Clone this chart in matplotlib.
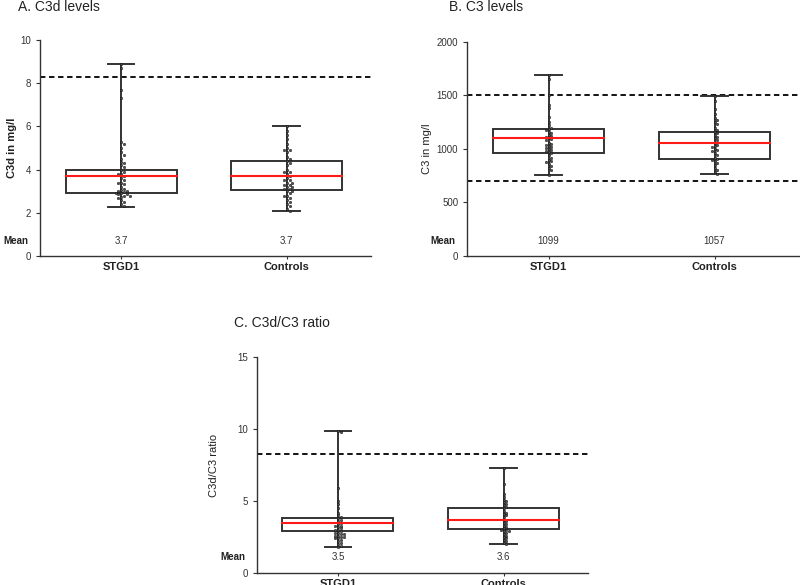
import numpy as np
import matplotlib.pyplot as plt

plt.rcParams["font.family"] = ["Liberation Sans", "DejaVu Sans"]

groups = ["STGD1", "Controls"]

# panel A: C3d (mg/l)
c3d_stgd1 = [8.9, 8.7, 7.7, 7.3, 5.3, 5.2, 5.0, 4.8, 4.7, 4.5, 4.35, 4.3, 4.2, 4.1,
             4.0, 3.9, 3.8, 3.8, 3.7, 3.6, 3.5, 3.4, 3.4, 3.35, 3.2, 3.1, 3.05, 3.0,
             3.0, 2.95, 2.9, 2.9, 2.85, 2.85, 2.8, 2.8, 2.75, 2.7, 2.6, 2.5, 2.4, 2.3]
c3d_controls = [6.0, 5.8, 5.6, 5.4, 5.2, 5.0, 4.9, 4.9, 4.8, 4.6, 4.5, 4.4, 4.3, 4.2,
                4.0, 3.9, 3.9, 3.8, 3.7, 3.6, 3.5, 3.5, 3.4, 3.4, 3.3, 3.3, 3.2, 3.2,
                3.1, 3.1, 3.0, 3.0, 2.9, 2.8, 2.8, 2.7, 2.6, 2.5, 2.4, 2.3, 2.2, 2.1]
c3d_whislo = [2.27, 2.08]
c3d_q1 = [2.9, 3.07]
c3d_q3 = [4.0, 4.4]
c3d_whishi = [8.9, 6.0]
c3d_center = [3.7, 3.72]
c3d_mean = ["3.7", "3.7"]
c3d_ref = [8.3]

# panel B: C3 (mg/l)
c3_stgd1 = [1690, 1650, 1500, 1410, 1380, 1300, 1250, 1220, 1200, 1190, 1180, 1160,
            1150, 1130, 1120, 1110, 1100, 1090, 1080, 1060, 1050, 1040, 1030, 1020,
            1010, 1000, 990, 980, 970, 960, 940, 920, 900, 890, 880, 860, 840, 820,
            800, 760]
c3_controls = [1490, 1450, 1370, 1330, 1290, 1270, 1250, 1230, 1200, 1180, 1160,
               1150, 1130, 1110, 1100, 1080, 1060, 1040, 1030, 1020, 1000, 990, 980,
               960, 940, 920, 910, 900, 890, 870, 850, 820, 800, 780, 770]
c3_whislo = [755, 770]
c3_q1 = [965, 910]
c3_q3 = [1185, 1160]
c3_whishi = [1690, 1490]
c3_center = [1099, 1057]
c3_mean = ["1099", "1057"]
c3_ref = [1500, 700]

# panel C: C3d/C3 ratio
ratio_stgd1 = [9.9, 9.8, 5.9, 5.0, 4.8, 4.5, 4.2, 4.0, 3.9, 3.8, 3.7, 3.6, 3.5, 3.4,
               3.3, 3.3, 3.2, 3.1, 3.0, 3.0, 2.9, 2.8, 2.8, 2.7, 2.7, 2.6, 2.6, 2.5,
               2.5, 2.4, 2.4, 2.3, 2.2, 2.1, 2.0, 1.9, 1.8]
ratio_controls = [7.3, 6.2, 5.5, 5.3, 5.1, 5.0, 4.9, 4.8, 4.7, 4.6, 4.5, 4.3, 4.2,
                  4.1, 4.0, 3.9, 3.7, 3.6, 3.5, 3.4, 3.3, 3.2, 3.1, 3.0, 3.0, 2.9,
                  2.9, 2.8, 2.7, 2.6, 2.5, 2.4, 2.3, 2.2, 2.1, 2.0]
ratio_whislo = [1.8, 2.0]
ratio_q1 = [2.9, 3.05]
ratio_q3 = [3.85, 4.55]
ratio_whishi = [9.9, 7.3]
ratio_center = [3.5, 3.65]
ratio_mean = ["3.5", "3.6"]
ratio_ref = [8.25]

GREY = "#333333"


def swarm_offsets(values, ax, ymax, dot_px=2.8):
    """Deterministic beeswarm: x offsets in data units so dots don't overlap."""
    fig = ax.figure
    bbox = ax.get_position()
    w_px = bbox.width * fig.get_figwidth() * fig.dpi
    h_px = bbox.height * fig.get_figheight() * fig.dpi
    xlo, xhi = ax.get_xlim()
    sx = w_px / (xhi - xlo)
    sy = h_px / ymax
    placed = []
    offs = []
    for v in values:
        y = v * sy
        for k in range(0, 40):
            cands = [0.0] if k == 0 else [k * dot_px * 0.5, -k * dot_px * 0.5]
            ok = None
            for c in cands:
                if all((c - px) ** 2 + (y - py) ** 2 >= dot_px ** 2 for px, py in placed):
                    ok = c
                    break
            if ok is not None:
                break
        placed.append((ok, y))
        offs.append(ok / sx)
    return np.array(offs)


def panel(ax, ylabel, ybold, ylab_x, ymax, yticks, pts, whislo, q1, q3, whishi,
          center, means, refs, mean_y):
    ax.set_xlim(-0.49, 1.51)
    ax.set_ylim(0, ymax)
    for s in ["top", "right"]:
        ax.spines[s].set_visible(False)
    for s in ["left", "bottom"]:
        ax.spines[s].set_color(GREY)
        ax.spines[s].set_linewidth(1.0)
    ax.set_yticks(yticks)
    ax.tick_params(axis="y", labelsize=7, labelcolor=GREY, color=GREY,
                   length=3, width=0.8)
    ax.set_xticks([0, 1])
    ax.set_xticklabels(groups, fontsize=8, fontweight="bold", color="#222222")
    ax.tick_params(axis="x", length=2.5, width=0.8, color=GREY, pad=2)
    ax.set_ylabel(ylabel, fontsize=8, fontweight="bold" if ybold else "normal",
                  color="#222222")
    ax.yaxis.set_label_coords(ylab_x, 0.5)

    for r in refs:
        ax.axhline(r, color="black", lw=1.3, ls=(0, (3, 2)), zorder=1)

    bw = 0.67
    cap = 0.16
    for i in range(2):
        ax.add_patch(plt.Rectangle((i - bw / 2, q1[i]), bw, q3[i] - q1[i],
                                   fill=False, ec=GREY, lw=1.4, zorder=2))
        ax.plot([i, i], [whislo[i], whishi[i]], color=GREY, lw=1.4, zorder=2)
        for w in (whislo[i], whishi[i]):
            ax.plot([i - cap / 2, i + cap / 2], [w, w], color=GREY, lw=1.4,
                    zorder=2)
        ax.plot([i - bw / 2, i + bw / 2], [center[i], center[i]], color="#ff1a1a",
                lw=1.5, zorder=4)
        vals = np.array(pts[i], dtype=float)
        offs = swarm_offsets(vals, ax, ymax)
        ax.scatter(i + offs, vals, s=3.2, c="#555555", edgecolors="black",
                   linewidths=0.3, zorder=3)
        ax.text(i, mean_y, means[i], ha="center", va="center", fontsize=7,
                color=GREY)
    ax.text(-0.56, mean_y, "Mean", ha="right", va="center", fontsize=7,
            fontweight="bold", color="#222222", clip_on=False)


fig = plt.figure(figsize=(8, 5.85), dpi=100)
axA = fig.add_axes([0.05, 0.5624, 0.414, 0.369])
axB = fig.add_axes([0.584, 0.5624, 0.415, 0.366])
axC = fig.add_axes([0.321, 0.0205, 0.414, 0.369])

panel(axA, "C3d in mg/l", True, -0.069, 10, [0, 2, 4, 6, 8, 10],
      [c3d_stgd1, c3d_controls], c3d_whislo, c3d_q1, c3d_q3, c3d_whishi,
      c3d_center, c3d_mean, c3d_ref, 0.7)
panel(axB, "C3 in mg/l", False, -0.106, 2000, [0, 500, 1000, 1500, 2000],
      [c3_stgd1, c3_controls], c3_whislo, c3_q1, c3_q3, c3_whishi,
      c3_center, c3_mean, c3_ref, 140)
panel(axC, "C3d/C3 ratio", False, -0.115, 15, [0, 5, 10, 15],
      [ratio_stgd1, ratio_controls], ratio_whislo, ratio_q1, ratio_q3,
      ratio_whishi, ratio_center, ratio_mean, ratio_ref, 1.1)

fig.text(18 / 800, 1 - 7 / 585, "A. C3d levels", fontsize=10, va="center",
         color="#222222")
fig.text(449 / 800, 1 - 7 / 585, "B. C3 levels", fontsize=10, va="center",
         color="#222222")
fig.text(234 / 800, 1 - 323 / 585, "C. C3d/C3 ratio", fontsize=10,
         va="center", color="#222222")

fig.savefig("out.png", dpi=100)
